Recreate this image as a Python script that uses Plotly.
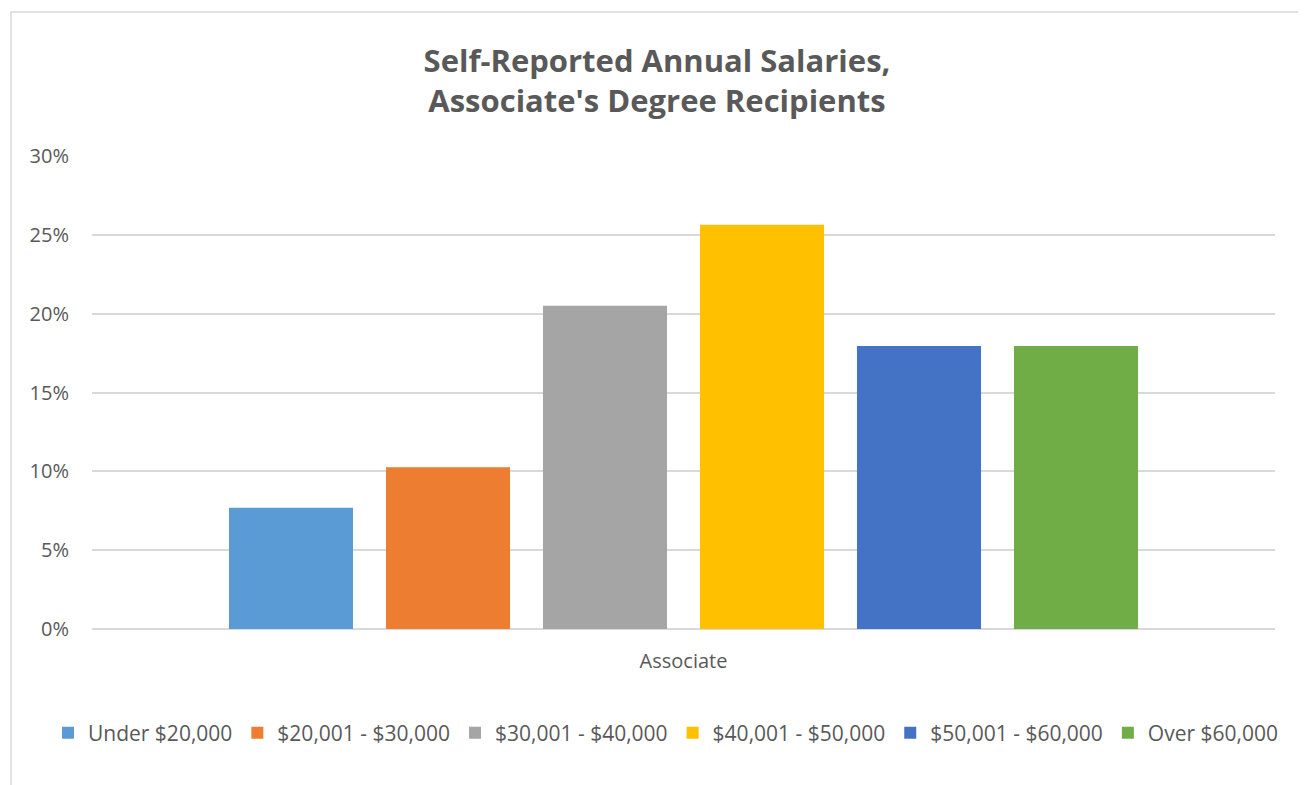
import plotly.graph_objects as go

categories = ["Associate"]
series_names = ["Under $20,000", "$20,001 - $30,000", "$30,001 - $40,000",
                "$40,001 - $50,000", "$50,001 - $60,000", "Over $60,000"]
series_values = [0.0769, 0.1026, 0.2051, 0.2564, 0.1795, 0.1795]
series_colors = ["#5B9BD5", "#ED7D31", "#A5A5A5", "#FFC000", "#4472C4", "#70AD47"]
y_ticks = [0, 0.05, 0.10, 0.15, 0.20, 0.25, 0.30]

FONT = "'Open Sans', sans-serif"
GRAY = "#595959"

W, H = 1298, 777
L, R, T, B = 84, 31, 148, 156
PW, PH = W - L - R, H - T - B

fig = go.Figure()
for name, val, col in zip(series_names, series_values, series_colors):
    fig.add_trace(go.Bar(x=categories, y=[val], name=name, marker_color=col,
                         marker_line_width=0))

fig.update_layout(
    width=W, height=H,
    paper_bgcolor="white", plot_bgcolor="white",
    barmode="group", bargap=0.2037, bargroupgap=0.21,
    margin=dict(l=L, r=R, t=T, b=B, autoexpand=False),
    font=dict(family=FONT, color=GRAY, size=20),
    title=dict(text="<b>Self-Reported Annual Salaries,<br>Associate's Degree Recipients</b>",
               x=0.5, xref="container", xanchor="center",
               y=1 - 64 / H, yref="container", yanchor="middle",
               font=dict(family=FONT, size=31, color=GRAY)),
    xaxis=dict(showgrid=False, showline=False, ticks="", tickfont=dict(size=20, color=GRAY),
               ticklabelstandoff=18),
    yaxis=dict(range=[0, 0.30], tickvals=y_ticks, tickformat=".0%",
               showgrid=True, gridcolor="#D9D9D9", gridwidth=1.5,
               zeroline=True, zerolinecolor="#D9D9D9", zerolinewidth=1.5,
               showline=False, ticks="", tickfont=dict(size=20, color=GRAY),
               ticklabelstandoff=22),
    legend=dict(orientation="h", x=(40 - L) / PW, xref="paper", xanchor="left",
                y=(T + PH - 725) / PH, yref="paper", yanchor="middle",
                font=dict(size=21, color=GRAY), traceorder="normal"),
    showlegend=True,
)

fig.add_shape(type="rect", xref="paper", yref="paper",
              x0=(3 - L) / PW, x1=(1296 - L) / PW,
              y0=(T + PH - 800) / PH, y1=(T + PH - 4) / PH,
              line=dict(color="#D9D9D9", width=1.5), fillcolor="rgba(0,0,0,0)", layer="below")

fig.write_html("out.html")
